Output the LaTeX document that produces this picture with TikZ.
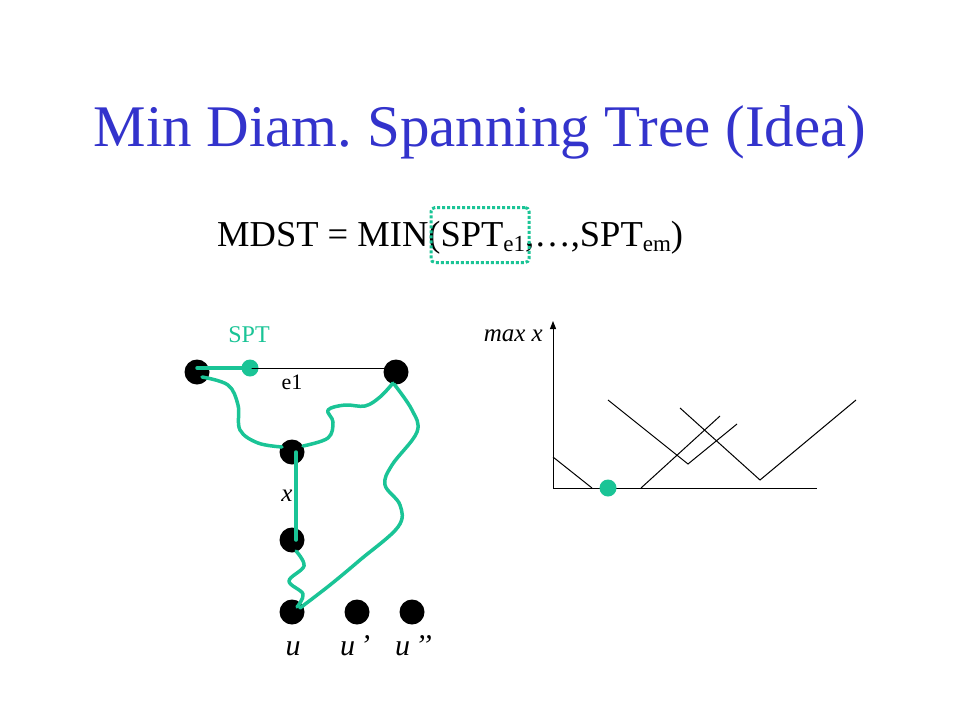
\documentclass[tikz,border=0pt]{standalone}
\usepackage{fontspec}
\setmainfont{Liberation Serif}
\usetikzlibrary{arrows.meta}
\definecolor{tealg}{RGB}{26,196,150}
\definecolor{titleblue}{RGB}{51,51,204}
\newcommand{\mysub}[1]{\raisebox{-5pt}{\fontsize{23}{24}\selectfont #1}}
\begin{document}
\frenchspacing
\begin{tikzpicture}[x=1pt,y=-1pt,
  vert/.style={circle,fill=black,minimum size=25pt,inner sep=0pt},
  tdot/.style={circle,fill=tealg,minimum size=17pt,inner sep=0pt},
  tline/.style={draw=tealg,line width=3.5pt,line cap=round,line join=round},
  thin/.style={draw=black,line width=1pt},
  lbl/.style={inner sep=0pt,font=\fontsize{24}{28}\selectfont},
  ilbl/.style={inner sep=0pt,font=\fontsize{30}{32}\selectfont\itshape}]
\fill[white] (0,0) rectangle (960,720);
\useasboundingbox (0,0) rectangle (960,720);
% title
\node[anchor=base,inner sep=0pt,text=titleblue,font=\fontsize{59}{64}\selectfont] (title) at (480,146) {Min Diam. Spanning Tree (Idea)};
% formula
\node[anchor=base west,inner sep=0pt,font=\fontsize{36.5}{40}\selectfont] (formula) at (217,246) {MDST = MIN(SPT\mysub{e1},\ldots,SPT\mysub{em})};
\node[draw=tealg,line width=3pt,dotted,rounded corners=4pt,minimum width=98pt,minimum height=55pt,inner sep=0pt] (focus) at (480,235) {};
% left graph
\node[lbl,text=tealg] (spt) at (249,335) {SPT};
\node[vert] (A) at (197,372) {};
\node[vert] (B) at (396,372) {};
\node[vert] (C) at (292,452) {};
\node[vert] (D) at (292,540) {};
\node[vert] (U) at (292,612) {};
\node[vert] (U1) at (357,612) {};
\node[vert] (U2) at (412,612) {};
\node[tdot] (T) at (250,368) {};
\draw[thin] (T.center) -- (B.center |- T.center);
\draw[tline] (A.center |- T.center) -- (T.center);
\node[lbl,font=\fontsize{22}{24}\selectfont] (e1) at (292,382) {e1};
\node[ilbl,font=\fontsize{25}{28}\selectfont\itshape] (xl) at (287,496) {x};
\node[ilbl,anchor=base] (ul) at (293,655) {u};
\node[ilbl,anchor=base west] (u1l) at (340,655) {u\,’};
\node[ilbl,anchor=base west] (u2l) at (395,655) {u\,’’};
% teal paths
\draw[tline] plot[smooth,tension=0.6] coordinates {(202,377) (228,385) (238,405) (240,430) (258,443) (282,447)};
\draw[tline] plot[smooth,tension=0.6] coordinates {(303,446) (328,438) (333,422) (328,410) (345,405) (365,406) (380,397) (393,383)};
\draw[tline] ([xshift=4pt]C.center) -- ([xshift=4pt]D.center);
\draw[tline] plot[smooth,tension=0.6] coordinates {(296,551) (304,566) (289,581) (303,594) (297,607)};
\draw[tline] plot[smooth,tension=0.6] coordinates {(394,384) (412,410) (417,432) (392,465) (385,485) (400,505) (398,527) (360,560) (330,585) (300,608)};
% right chart
\coordinate (O) at (553,488);
\coordinate (Ytop) at (553,321);
\coordinate (Xend) at (817,488);
\draw[thin,-{Triangle[length=8pt,width=6pt]}] (O) -- (Ytop);
\draw[thin] (O) -- (Xend);
\node[ilbl,font=\fontsize{25}{28}\selectfont\itshape,anchor=east] (maxx) at (543,336) {max x};
\draw[thin] (553,457) -- (592,488);
\draw[thin] (608,400) -- (688,464) -- (737,424);
\draw[thin] (680,408) -- (760,480) -- (856,400);
\draw[thin] (641,488) -- (720,416);
\node[tdot] (P) at (608,488) {};
\end{tikzpicture}
\end{document}
